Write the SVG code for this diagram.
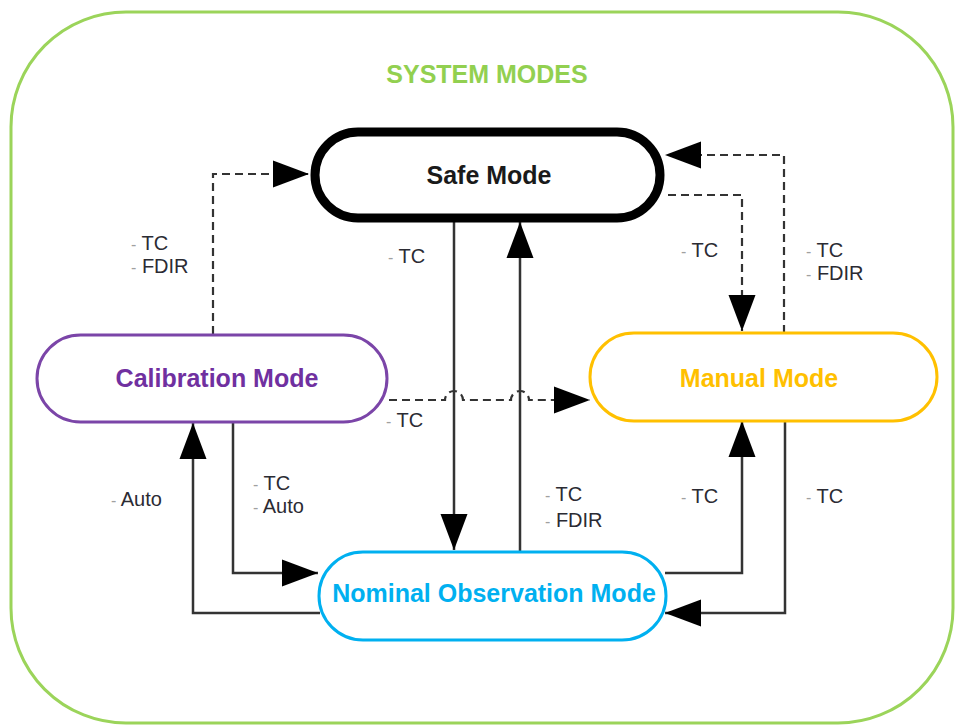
<svg xmlns="http://www.w3.org/2000/svg" width="957" height="727" viewBox="0 0 957 727">
<style>
.node{fill:#fff}
.nt{font-family:"Liberation Sans",Arial,sans-serif;font-weight:bold;font-size:25px;text-anchor:middle}
.lbl{font-family:"Liberation Sans",Arial,sans-serif;font-size:20px;fill:#2b2b33}
.b{fill:#a0a0a0;font-size:16px}
.solid{fill:none;stroke:#333;stroke-width:2.5}
.dash{fill:none;stroke:#333;stroke-width:2.2;stroke-dasharray:8 5}
</style>
<defs>
<marker id="ah" markerUnits="userSpaceOnUse" markerWidth="38" markerHeight="28" refX="36" refY="14" orient="auto">
<path d="M0,0.5 L36,14 L0,27.5 z" fill="#000" stroke="none"/>
</marker>
</defs>
<rect x="11" y="12" width="942" height="711" rx="115" fill="none" stroke="#9BD45A" stroke-width="3"/>
<text x="487" y="83" font-family="Liberation Sans,Arial,sans-serif" font-weight="bold" font-size="25" fill="#92D050" text-anchor="middle">SYSTEM MODES</text>

<g id="connectors">
<path class="dash" d="M213,334 V174 H309" marker-end="url(#ah)"/>
<path class="dash" d="M668,195 H742 V331" marker-end="url(#ah)"/>
<path class="dash" d="M784,333 V155 H665" marker-end="url(#ah)"/>
<path class="dash" d="M389,400 H445 a9,9 0 0 1 18,0 H511 a9,9 0 0 1 18,0 H590" marker-end="url(#ah)"/>
<path class="solid" d="M454,222 V550" marker-end="url(#ah)"/>
<path class="solid" d="M520,551 V222" marker-end="url(#ah)"/>
<path class="solid" d="M233,422 V573 H318" marker-end="url(#ah)"/>
<path class="solid" d="M320,613 H193 V423" marker-end="url(#ah)"/>
<path class="solid" d="M665,573 H742 V421" marker-end="url(#ah)"/>
<path class="solid" d="M785,420 V613 H665" marker-end="url(#ah)"/>
</g>

<g id="labels">
<text class="lbl" x="131" y="250"><tspan class="b">-</tspan> TC</text>
<text class="lbl" x="131" y="273"><tspan class="b">-</tspan> FDIR</text>
<text class="lbl" x="388" y="263"><tspan class="b">-</tspan> TC</text>
<text class="lbl" x="681" y="257"><tspan class="b">-</tspan> TC</text>
<text class="lbl" x="806" y="257"><tspan class="b">-</tspan> TC</text>
<text class="lbl" x="806" y="280"><tspan class="b">-</tspan> FDIR</text>
<text class="lbl" x="386" y="427"><tspan class="b">-</tspan> TC</text>
<text class="lbl" x="111" y="506"><tspan class="b">-</tspan> Auto</text>
<text class="lbl" x="253" y="490"><tspan class="b">-</tspan> TC</text>
<text class="lbl" x="253" y="513"><tspan class="b">-</tspan> Auto</text>
<text class="lbl" x="545" y="501"><tspan class="b">-</tspan> TC</text>
<text class="lbl" x="545" y="527"><tspan class="b">-</tspan> FDIR</text>
<text class="lbl" x="681" y="503"><tspan class="b">-</tspan> TC</text>
<text class="lbl" x="806" y="503"><tspan class="b">-</tspan> TC</text>
</g>

<g id="safe">
<rect class="node" x="315" y="132" width="345" height="86" rx="43" stroke="#000" stroke-width="9"/>
<text class="nt" x="489" y="184" fill="#1a1a1a">Safe Mode</text>
</g>
<g id="calibration">
<rect class="node" x="37" y="335" width="350" height="87" rx="43.5" stroke="#7B45A8" stroke-width="3"/>
<text class="nt" x="217" y="387" fill="#7030A0">Calibration Mode</text>
</g>
<g id="manual">
<rect class="node" x="590" y="333" width="347" height="88" rx="44" stroke="#FFC000" stroke-width="3"/>
<text class="nt" x="759" y="387" fill="#FFC000">Manual Mode</text>
</g>
<g id="nominal">
<rect class="node" x="319" y="552" width="347" height="88" rx="44" stroke="#00B0F0" stroke-width="3"/>
<text class="nt" x="494" y="602" fill="#00B0F0">Nominal Observation Mode</text>
</g>
</svg>
